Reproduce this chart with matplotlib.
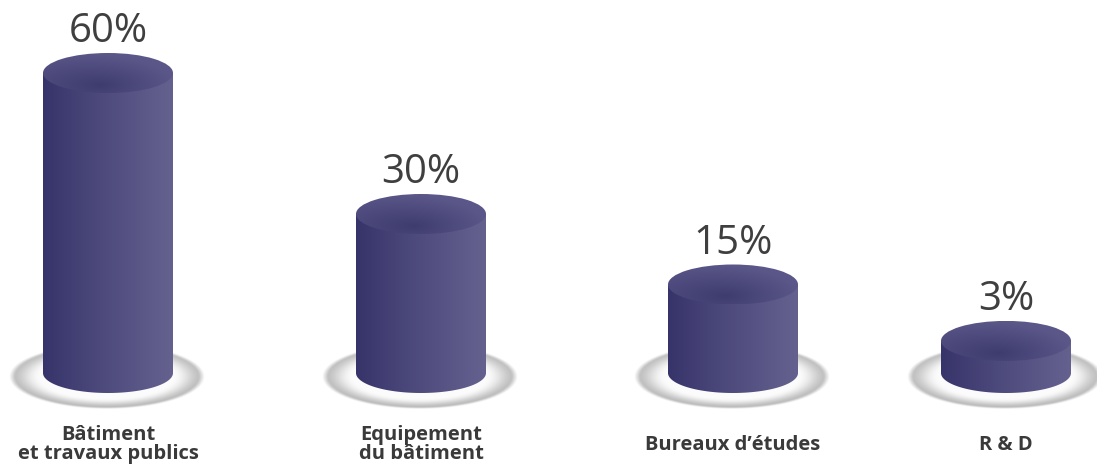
import numpy as np
import matplotlib
matplotlib.use('Agg')
import matplotlib.pyplot as plt
from matplotlib.patches import Polygon, Ellipse
from matplotlib.colors import to_rgb

# data
categories = ['Bâtiment\net travaux publics', 'Equipement\ndu bâtiment', "Bureaux d’études", 'R & D']
values = [60, 30, 15, 3]
pct_labels = ['%d%%' % v for v in values]

# layout (pixel units, y down)
centers = [108, 421, 733, 1006]
base_y = 373
rx, ry = 65, 20
px_per_unit = 4.7
base_h = 18

side_left = np.array(to_rgb('#36336a'))
side_right = np.array(to_rgb('#65618f'))
top_dark = np.array(to_rgb('#3a376b'))
top_light = np.array(to_rgb('#5b5789'))

fig = plt.figure(figsize=(10.97, 4.67), dpi=100)
ax = fig.add_axes([0, 0, 1, 1])
ax.set_xlim(0, 1097)
ax.set_ylim(467, 0)
ax.axis('off')


def shadow(cx, cy, srx, sry):
    n = 240
    xs = np.linspace(-1, 1, n)
    X, Y = np.meshgrid(xs, xs)
    r = np.sqrt(X**2 + Y**2)
    t = np.clip((r - 0.68) / 0.3, 0, 1)
    t = t * t * (3 - 2 * t)
    g = 0.985 - 0.24 * t - 0.03 * np.clip(Y, 0, 1) * t
    a = np.clip((1.0 - r) / 0.06, 0, 1)
    img = np.dstack([g, g, g, a])
    ax.imshow(img, extent=[cx - srx, cx + srx, cy + sry, cy - sry],
              interpolation='bilinear', zorder=1)


def cylinder(cx, top_y):
    # side
    t = np.linspace(np.pi, 0, 80)
    pts = [(cx - rx, top_y)] + list(zip(cx + rx * np.cos(t), base_y + ry * np.sin(t))) + [(cx + rx, top_y)]
    poly = Polygon(pts, closed=True, facecolor='none', edgecolor='none')
    ax.add_patch(poly)
    u = np.linspace(0, 1, 256)
    w = u ** 0.9
    grad = side_left[None, :] * (1 - w[:, None]) + side_right[None, :] * w[:, None]
    img = np.repeat(grad[None, :, :], 2, axis=0)
    im = ax.imshow(img, extent=[cx - rx, cx + rx, base_y + ry, top_y], aspect='auto',
                   interpolation='bilinear', zorder=2)
    im.set_clip_path(poly)
    # top
    el = Ellipse((cx, top_y), 2 * rx, 2 * ry, facecolor='none', edgecolor='none')
    ax.add_patch(el)
    n = 120
    xs = np.linspace(-1, 1, n)
    X, Y = np.meshgrid(xs, xs)
    d = np.sqrt(((X + 0.1) / 1.8) ** 2 + ((Y - 0.6) / 2.0) ** 2)
    d = np.clip(d * 1.1 + 0.3 * (X + 1) / 2, 0, 1)
    img2 = top_dark[None, None, :] * (1 - d[..., None]) + top_light[None, None, :] * d[..., None]
    im2 = ax.imshow(img2, extent=[cx - rx, cx + rx, top_y + ry, top_y - ry], aspect='auto',
                    interpolation='bilinear', zorder=3)
    im2.set_clip_path(el)


for cx, v, lab, pct in zip(centers, values, categories, pct_labels):
    h = base_h + v * px_per_unit
    top_y = base_y - h
    shadow(cx - 1, base_y + 4, 98, 32.5)
    cylinder(cx, top_y)
    ax.text(cx, top_y - ry - 11, pct, ha='center', va='baseline', fontsize=29,
            family='Open Sans', color='#3f3f3f', zorder=5)
    lines = lab.split('\n')
    ys = [440, 459] if len(lines) == 2 else [450]
    for line, y in zip(lines, ys):
        ax.text(cx, y, line, ha='center', va='baseline', fontsize=14.5,
                family='Open Sans', fontweight='bold', color='#3a3a3a', zorder=5)

fig.savefig('out.png', dpi=100)
